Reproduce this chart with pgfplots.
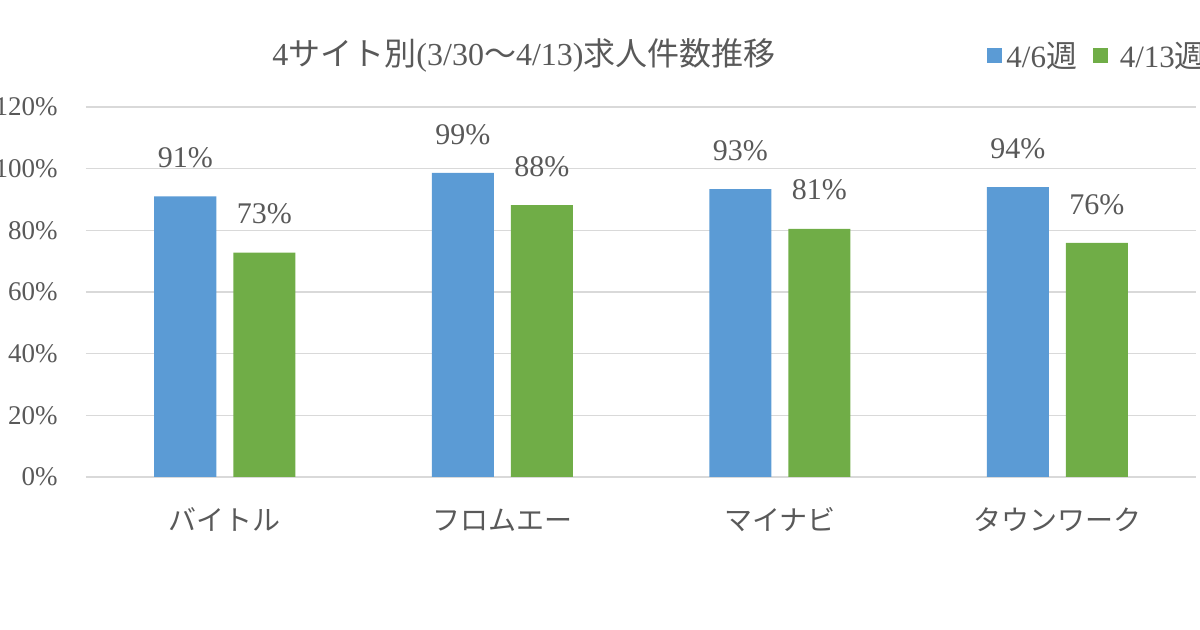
\documentclass[border=0pt]{standalone}
\usepackage{fontspec}
\setmainfont{Liberation Serif}
\newfontfamily\jp{Noto Sans CJK JP}
\usepackage{pgfplots}
\pgfplotsset{compat=1.18}
\definecolor{cblue}{HTML}{5B9BD5}
\definecolor{cgreen}{HTML}{70AD47}
\definecolor{gridc}{HTML}{D9D9D9}
\definecolor{txt}{HTML}{595959}
\begin{document}
\begin{tikzpicture}
\path[use as bounding box] (0,0) rectangle (600pt,315pt);
\begin{axis}[
  at={(43pt,76.5pt)}, anchor=south west,
  scale only axis, width=555pt, height=185pt,
  xmin=-0.5, xmax=3.5, ymin=0, ymax=120,
  ybar, bar width=31pt,
  axis line style={draw=none},
  major tick length=0pt,
  ymajorgrids, grid style={gridc, line width=0.7pt},
  ytick={0,20,40,60,80,100,120},
  /pgf/number format/assume math mode=true,
  yticklabel={\pgfmathprintnumber{\tick}\%},
  yticklabel style={anchor=east, inner sep=0pt, xshift=-14pt, font=\fontsize{13.5}{15}\selectfont, text=txt},
  xtick={0,1,2,3},
  xticklabels={{\jp バイトル},{\jp フロムエー},{\jp マイナビ},{\jp タウンワーク}},
  xticklabel style={anchor=base, inner sep=0pt, yshift=-27pt, font=\fontsize{14}{16}\selectfont, text=txt},
  nodes near coords={\pgfmathprintnumber[fixed,precision=0]{\pgfplotspointmeta}\%},
  nodes near coords style={anchor=south, inner sep=0pt, yshift=14pt, font=\fontsize{15}{17}\selectfont, text=txt},
  every axis title shift=0pt,
  title={4{\jp サイト別}(3/30{\jp 〜}4/13){\jp 求人件数推移}},
  title style={at={(0.3946,1.138)}, anchor=center, inner sep=0pt, font=\fontsize{16}{18}\selectfont, text=txt},
  legend style={draw=none, fill=none, at={(0.8117,1.138)}, anchor=west, inner sep=0pt,
    font=\fontsize{15.5}{17}\selectfont, text=txt,
    /tikz/every even column/.append style={column sep=6pt}},
  legend columns=2,
  legend image code/.code={\fill[#1] (0pt,-3.75pt) rectangle (7.5pt,3.75pt);},
]
\addplot[fill=cblue, draw=none, bar shift=-19.75pt] coordinates {(0,91) (1,98.6) (2,93.4) (3,94)};
\addlegendentry{4/6{\jp 週}}
\addplot[fill=cgreen, draw=none, bar shift=19.75pt] coordinates {(0,72.8) (1,88.2) (2,80.5) (3,75.9)};
\addlegendentry{\ 4/13{\jp 週}}
\end{axis}
\end{tikzpicture}
\end{document}
